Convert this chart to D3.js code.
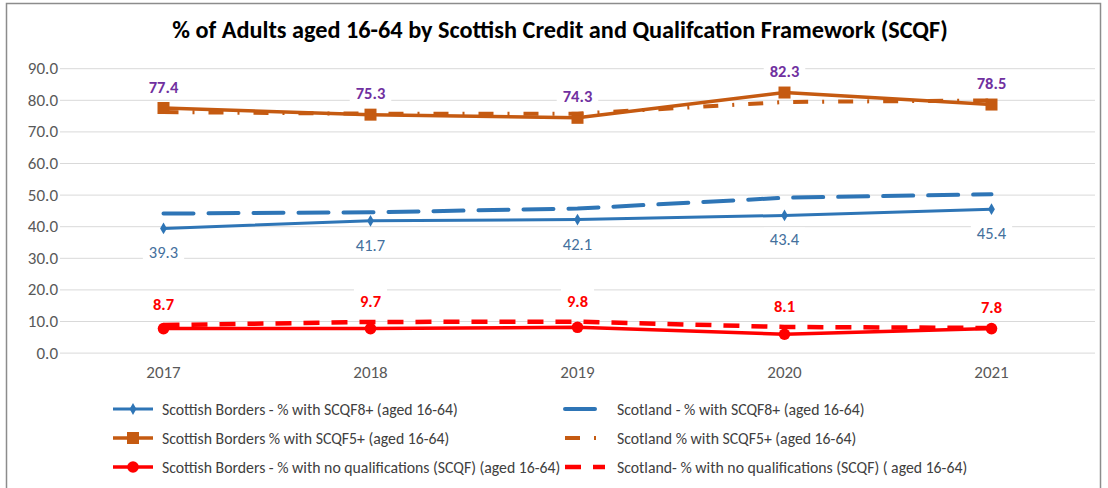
<!DOCTYPE html>
<html>
<head>
<meta charset="utf-8">
<script src="https://cdn.jsdelivr.net/npm/d3@7"></script>
<style>
  html, body { margin: 0; padding: 0; background: #fff; }
  svg { display: block; }
  text { font-family: Carlito, Calibri, Lato, "Open Sans", sans-serif; }
</style>
</head>
<body>
<svg id="chart" width="1108" height="488"></svg>
<script>
// ---- data ----
const years = ["2017", "2018", "2019", "2020", "2021"];
const sbSCQF8 = [39.3, 41.7, 42.1, 43.4, 45.4];
const scSCQF8 = [44.0, 44.4, 45.6, 49.0, 50.1];
const sbSCQF5 = [77.4, 75.3, 74.3, 82.3, 78.5];
const scSCQF5 = [76.1, 75.6, 75.6, 79.3, 79.8];
const sbNoQual = [7.6, 7.6, 8.0, 5.8, 7.6];
const scNoQual = [8.7, 9.7, 9.8, 8.1, 7.8];
const yTicks = [0, 10, 20, 30, 40, 50, 60, 70, 80, 90];
const titleText = "% of Adults aged 16-64 by Scottish Credit and Qualifcation Framework (SCQF)";
const seriesNames = [
  "Scottish Borders - % with SCQF8+ (aged 16-64)",
  "Scotland - % with SCQF8+ (aged 16-64)",
  "Scottish Borders % with SCQF5+ (aged 16-64)",
  "Scotland % with SCQF5+ (aged 16-64)",
  "Scottish Borders - % with no qualifications (SCQF) (aged 16-64)",
  "Scotland- % with no qualifications (SCQF) ( aged 16-64)"
];

// ---- styles ----
const BLUE = "#2E75B6", ORANGE = "#C55A11", RED = "#FF0000";
const FONT = "Carlito, Calibri, Lato, 'Open Sans', sans-serif";
const series = [
  { name: seriesNames[0], values: sbSCQF8, color: BLUE, width: 3, dash: null, marker: "diamond" },
  { name: seriesNames[1], values: scSCQF8, color: BLUE, width: 4, dash: "30,15", marker: null, cap: "round" },
  { name: seriesNames[2], values: sbSCQF5, color: ORANGE, width: 3.5, dash: null, marker: "square" },
  { name: seriesNames[3], values: scSCQF5, color: ORANGE, width: 4, dash: "15,14,2,14", marker: null },
  { name: seriesNames[4], values: sbNoQual, color: RED, width: 3.5, dash: null, marker: "circle" },
  { name: seriesNames[5], values: scNoQual, color: RED, width: 4.5, dash: "16,12", marker: null }
];

const svg = d3.select("#chart");

// border
svg.append("rect").attr("x", 6.5).attr("y", 3.5).attr("width", 1094).attr("height", 500)
  .attr("fill", "#fff").attr("stroke", "#8c8c8c").attr("stroke-width", 1.5);

// title
const title = svg.append("text").attr("x", 560).attr("y", 38).attr("text-anchor", "middle")
  .attr("font-weight", "bold").attr("fill", "#000").attr("font-size", 20).text(titleText);
{
  const w = title.node().getComputedTextLength();
  title.attr("font-size", 20 * 776 / w);
}

// scales
const x = d3.scaleBand().domain(years).range([60, 1095]);
const cx = d => x(d) + x.bandwidth() / 2;
const y = d3.scaleLinear().domain([0, 90]).range([352.6, 68.2]);

// gridlines + y axis
const yAxis = svg.append("g").attr("transform", "translate(60,0)")
  .call(d3.axisLeft(y).tickValues(yTicks).tickSize(-1035).tickFormat(d3.format(".1f")).tickPadding(2));
yAxis.select(".domain").remove();
yAxis.selectAll(".tick line").attr("stroke", "#D9D9D9").attr("stroke-width", 1);
yAxis.selectAll(".tick text").attr("fill", "#595959").attr("font-size", 17).style("font-family", FONT);

// x axis
const xAxis = svg.append("g").attr("transform", "translate(0,352.6)")
  .call(d3.axisBottom(x).tickSize(0).tickPadding(13));
xAxis.select(".domain").remove();
xAxis.selectAll(".tick text").attr("fill", "#595959").attr("font-size", 17).style("font-family", FONT);

// lines
const line = d3.line().x((d, i) => cx(years[i])).y(d => y(d));
const plot = svg.append("g");

function drawMarker(g, type, px, py, color) {
  if (type === "diamond") {
    g.append("path").attr("d", d3.symbol(d3.symbolDiamond, 40)()).attr("transform", `translate(${px},${py})`)
      .attr("fill", color);
  } else if (type === "square") {
    g.append("rect").attr("x", px - 6).attr("y", py - 6).attr("width", 12).attr("height", 12).attr("fill", color);
  } else if (type === "circle") {
    g.append("circle").attr("cx", px).attr("cy", py).attr("r", 5.8).attr("fill", color);
  }
}

series.forEach(s => {
  const p = plot.append("path").datum(s.values).attr("d", line).attr("fill", "none")
    .attr("stroke", s.color).attr("stroke-width", s.width).attr("stroke-linejoin", "round");
  if (s.dash) p.attr("stroke-dasharray", s.dash).attr("stroke-linecap", s.cap || "butt");
  if (s.marker) s.values.forEach((v, i) => drawMarker(plot, s.marker, cx(years[i]), y(v), s.color));
});

// data labels
const labels = svg.append("g");
function addLabels(vals, dy, color, weight) {
  vals.forEach((v, i) => {
    const px = cx(years[i]), py = y(v) + dy;
    const g = labels.append("g");
    const t = g.append("text").attr("x", px).attr("y", py).attr("text-anchor", "middle")
      .attr("dominant-baseline", "central").attr("font-size", 16.5).attr("font-weight", weight)
      .attr("fill", color).text(d3.format(".1f")(v));
    const w = t.node().getComputedTextLength();
    g.insert("rect", "text").attr("x", px - w / 2 - 6).attr("y", py - 12).attr("width", w + 12)
      .attr("height", 24).attr("fill", "#fff");
  });
}
addLabels(sbSCQF5, -21.5, "#7030A0", "bold");
addLabels(sbSCQF8, 24, "#44709D", "normal");
addLabels(scNoQual, -21, "#FF0000", "bold");

// legend
const legendRows = [409, 438, 467];
const legendCols = [{ x0: 113, x1: 153, tx: 162 }, { x0: 565, x1: 605, tx: 617 }];
const leg = svg.append("g");
const legTexts = [];
series.forEach((s, i) => {
  const col = legendCols[i % 2], ry = legendRows[Math.floor(i / 2)];
  const l = leg.append("line").attr("x1", col.x0).attr("x2", col.x1).attr("y1", ry).attr("y2", ry)
    .attr("stroke", s.color).attr("stroke-width", s.width);
  if (s.dash) l.attr("stroke-dasharray", s.dash).attr("stroke-linecap", s.cap || "butt");
  if (s.marker) drawMarker(leg, s.marker, (col.x0 + col.x1) / 2, ry, s.color);
  legTexts.push(leg.append("text").attr("x", col.tx).attr("y", ry).attr("dominant-baseline", "central")
    .attr("font-size", 15).attr("fill", "#404040").text(s.name));
});
{
  const w = legTexts[4].node().getComputedTextLength();
  const fs = 15 * 399 / w;
  legTexts.forEach(t => t.attr("font-size", fs));
}
</script>
</body>
</html>
